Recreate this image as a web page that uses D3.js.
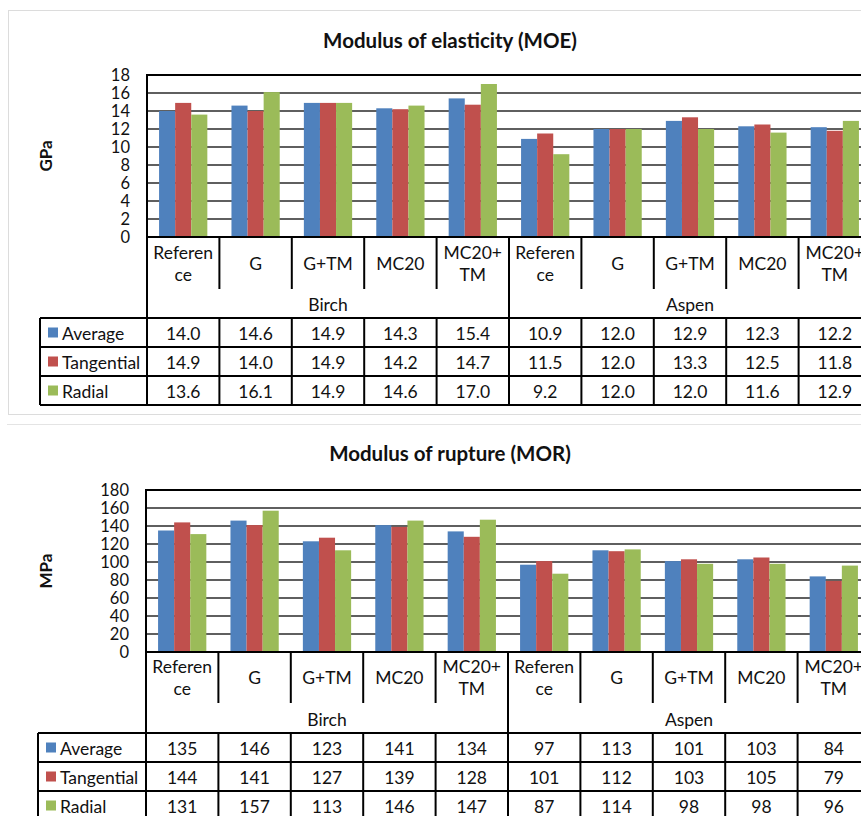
<!DOCTYPE html>
<html><head><meta charset="utf-8">
<script src="https://cdn.jsdelivr.net/npm/d3@7"></script>
<style>
html,body{margin:0;padding:0;background:#fff;}
svg{display:block;}
text{font-family:Lato,"Open Sans",sans-serif;fill:#111;}
</style></head>
<body>
<svg id="chart" width="861" height="816"></svg>
<script>
const categories = ["Reference","G","G+TM","MC20","MC20+TM","Reference","G","G+TM","MC20","MC20+TM"];
const categoryLines = [["Referen","ce"],["G"],["G+TM"],["MC20"],["MC20+","TM"],["Referen","ce"],["G"],["G+TM"],["MC20"],["MC20+","TM"]];
const groups = ["Birch","Aspen"];
const series = ["Average","Tangential","Radial"];
const colors = ["#4F81BD","#C0504D","#9BBB59"];

const moeAverage    = [14.0,14.6,14.9,14.3,15.4,10.9,12.0,12.9,12.3,12.2];
const moeTangential = [14.9,14.0,14.9,14.2,14.7,11.5,12.0,13.3,12.5,11.8];
const moeRadial     = [13.6,16.1,14.9,14.6,17.0,9.2,12.0,12.0,11.6,12.9];
const moeTicks = [0,2,4,6,8,10,12,14,16,18];

const morAverage    = [135,146,123,141,134,97,113,101,103,84];
const morTangential = [144,141,127,139,128,101,112,103,105,79];
const morRadial     = [131,157,113,146,147,87,114,98,98,96];
const morTicks = [0,20,40,60,80,100,120,140,160,180];

const svg = d3.select("#chart");

// panel frames
svg.append("rect").attr("x",8.5).attr("y",10.5).attr("width",900).attr("height",404)
  .attr("fill","none").attr("stroke","#dcdcdc");
svg.append("line").attr("x1",7).attr("x2",861).attr("y1",424.5).attr("y2",424.5).attr("stroke","#e4e4e4");

function drawPanel(cfg){
  const g = svg.append("g");
  const x = d3.scaleBand().domain(d3.range(categories.length)).range([cfg.left, cfg.right]);
  const xs = d3.scaleBand().domain(series).range([0, x.bandwidth()]).paddingOuter(0.75).paddingInner(0);
  const y = d3.scaleLinear().domain([0, d3.max(cfg.ticks)]).range([cfg.bottom, cfg.top]);

  // title
  g.append("text").attr("x",450).attr("y",cfg.titleY).attr("text-anchor","middle")
    .attr("dominant-baseline","central").style("font-weight","bold").style("font-size","20.5px").text(cfg.title);
  // y label
  g.append("text").attr("transform",`translate(${cfg.yLabelX},${(cfg.top+cfg.bottom)/2}) rotate(-90)`)
    .attr("text-anchor","middle").attr("dominant-baseline","central")
    .style("font-weight","bold").style("font-size","17px").text(cfg.yLabel);

  // gridlines
  g.append("g").selectAll("line").data(cfg.ticks.slice(1,-1)).join("line")
    .attr("x1",cfg.left).attr("x2",cfg.right).attr("y1",d=>y(d)).attr("y2",d=>y(d))
    .attr("stroke","#2a2a2a").attr("stroke-width",1.3);

  // y axis labels
  const ax = g.append("g").attr("transform",`translate(${cfg.left-17},0)`)
    .call(d3.axisLeft(y).tickValues(cfg.ticks).tickSize(0).tickPadding(0).tickFormat(d3.format("d")));
  ax.select(".domain").remove();
  ax.selectAll("text").style("font-size","16.5px").style("font-family","Lato,sans-serif").attr("fill","#111");

  // bars
  const vals = cfg.values;
  series.forEach((s,si)=>{
    g.append("g").selectAll("rect").data(vals[si]).join("rect")
      .attr("x",(d,i)=>x(i)+xs(s)).attr("width",xs.bandwidth())
      .attr("y",d=>y(d)).attr("height",d=>y(0)-y(d))
      .attr("fill",colors[si]);
  });

  // plot frame
  g.append("rect").attr("x",cfg.left).attr("y",cfg.top).attr("width",cfg.right-cfg.left).attr("height",cfg.bottom-cfg.top)
    .attr("fill","none").attr("stroke","#000").attr("stroke-width",2);

  // table
  const hb = cfg.headerBottom, gb = cfg.groupBottom, rh = cfg.rowH;
  const tEnd = gb + rh*series.length;
  const line = (x1,y1,x2,y2)=>g.append("line").attr("x1",x1).attr("y1",y1).attr("x2",x2).attr("y2",y2)
      .attr("stroke","#000").attr("stroke-width",2);
  d3.range(1,categories.length).forEach(i=>{
    const xx = x(i);
    if(i===5) line(xx,cfg.bottom,xx,tEnd); else { line(xx,cfg.bottom,xx,hb); line(xx,gb,xx,tEnd); }
  });
  line(cfg.left,cfg.bottom,cfg.left,tEnd);
  line(cfg.right,cfg.bottom,cfg.right,tEnd);
  line(cfg.legendLeft,gb,cfg.legendLeft,tEnd);
  for(let r=0;r<=series.length;r++) line(cfg.legendLeft,gb+rh*r,cfg.right,gb+rh*r);

  // category labels
  categoryLines.forEach((ls,i)=>{
    const cx = x(i)+x.bandwidth()/2;
    const cy = (cfg.bottom+hb)/2;
    ls.forEach((t,li)=>{
      g.append("text").attr("x",cx).attr("y",cy+(li-(ls.length-1)/2)*22)
        .attr("text-anchor","middle").attr("dominant-baseline","central").style("font-size","17.5px").text(t);
    });
  });
  // group labels
  groups.forEach((gr,gi)=>{
    const x0 = x(gi*5), x1 = x(gi*5+4)+x.bandwidth();
    g.append("text").attr("x",(x0+x1)/2).attr("y",(hb+gb)/2+1).attr("text-anchor","middle")
      .attr("dominant-baseline","central").style("font-size","17.5px").text(gr);
  });
  // rows
  series.forEach((s,si)=>{
    const cy = gb+rh*si+rh/2;
    g.append("rect").attr("x",cfg.legendLeft+8).attr("y",cy-5).attr("width",10).attr("height",10).attr("fill",colors[si]);
    g.append("text").attr("x",cfg.legendLeft+22).attr("y",cy+1).attr("dominant-baseline","central")
      .style("font-size","17.5px").text(s);
    vals[si].forEach((v,i)=>{
      g.append("text").attr("x",x(i)+x.bandwidth()/2).attr("y",cy+1).attr("text-anchor","middle")
        .attr("dominant-baseline","central").style("font-size","17.5px").text(d3.format(cfg.fmt)(v));
    });
  });
}

drawPanel({title:"Modulus of elasticity (MOE)", titleY:40, yLabel:"GPa", yLabelX:45,
  top:75, bottom:237, left:147, right:871, legendLeft:40, headerBottom:289, groupBottom:318, rowH:29,
  ticks:moeTicks, values:[moeAverage,moeTangential,moeRadial], fmt:".1f"});
drawPanel({title:"Modulus of rupture (MOR)", titleY:453, yLabel:"MPa", yLabelX:45,
  top:490, bottom:652, left:146, right:870, legendLeft:38, headerBottom:703, groupBottom:733, rowH:29,
  ticks:morTicks, values:[morAverage,morTangential,morRadial], fmt:"d"});
</script>
</body></html>
